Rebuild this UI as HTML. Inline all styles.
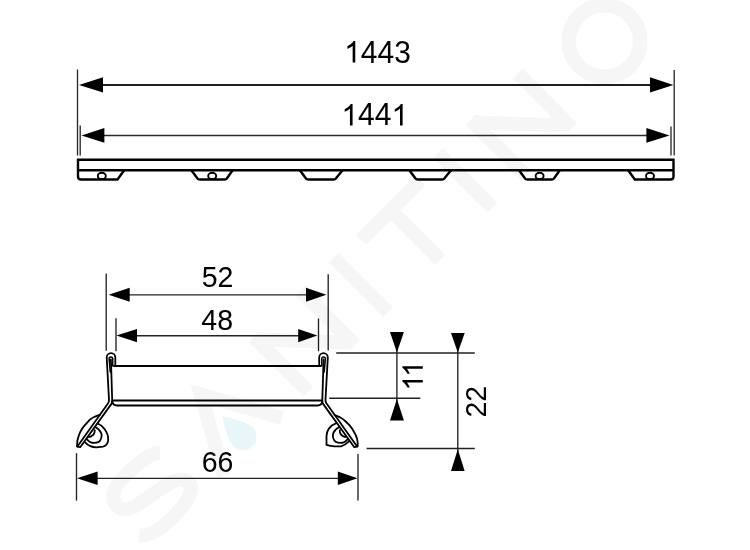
<!DOCTYPE html>
<html><head><meta charset="utf-8"><style>
html,body{margin:0;padding:0;background:#fff;}
svg{display:block;will-change:transform;}
text{font-family:"Liberation Sans",sans-serif;fill:#000;}
</style></head><body>
<svg width="750" height="550" viewBox="0 0 750 550">

<!-- watermark -->
<g transform="rotate(-45)" fill="none" stroke="#f6f6f6" stroke-width="14">
  <!-- S -->
  <path d="M-207 433 C-214 426 -232 425 -250 425 C-266 425 -275 431 -275 441 C-275 451 -264 454 -245 457 C-222 460 -208 464 -208 474 C-208 484 -222 488 -243 488 C-261 488 -274 485 -280 477"/>
  <!-- A -->
  <path d="M-178 495 L-137 421 L-96 495" stroke-linejoin="miter"/>
  <!-- N1 -->
  <path d="M-58.8 495 V418 M-58.8 421 L7.2 492 M7.2 418 V495"/>
  <!-- I -->
  <path d="M53.7 418 V495"/>
  <!-- T -->
  <path d="M85.8 425 H169.5 M127.6 418 V495"/>
  <!-- I -->
  <path d="M201.5 418 V495"/>
  <!-- N2 -->
  <path d="M248 495 V418 M248 421 L314 492 M314 418 V495"/>
  <!-- O -->
  <circle cx="398.4" cy="456.5" r="35.8" stroke-width="14.6"/>
  <!-- drop -->
  <path d="M-137 451.5 Q-125 469 -123.3 480.5 A13.7 13.7 0 0 1 -150.7 480.5 Q-149 469 -137 451.5 Z" fill="#e8f6fa" stroke="none"/>
</g>
<!-- ============ TOP: 1443 / 1441 ============ -->
<g stroke="#2a2a2a" stroke-width="1.35" fill="none">
  <line x1="77.5" y1="69.5" x2="77.5" y2="155.5"/>
  <line x1="80.2" y1="125.5" x2="80.2" y2="155.5"/>
  <line x1="674.2" y1="70" x2="674.2" y2="155.5"/>
  <line x1="671" y1="126.5" x2="671" y2="155.5"/>
  <line x1="100" y1="85" x2="655" y2="85" stroke="#1e1e1e" stroke-width="1.8"/>
  <line x1="100" y1="135.5" x2="650" y2="135.5"/>
</g>
<g fill="#000">
  <polygon points="79,84.9 103,77.3 103,92.5"/>
  <polygon points="673.4,84.9 650,77.3 650,92.5"/>
  <polygon points="81.5,135.4 104.4,128.1 104.4,142.7"/>
  <polygon points="669.5,135.4 646.4,128.1 646.4,142.7"/>
</g>
<!-- 1443 -->
<g transform="translate(344.1,62.5) scale(30)"><path d="M0.3726 0 L0.2847 0 L0.2847 -0.5601 Q0.2529 -0.5298 0.2012 -0.4995 Q0.1494 -0.4692 0.1089 -0.4541 L0.1089 -0.5391 Q0.1816 -0.5732 0.2358 -0.6216 Q0.29 -0.6699 0.3125 -0.7158 L0.3726 -0.7158 Z"/></g>
<g transform="translate(360.78,62.5) scale(1,1.04)"><text font-size="30">443</text></g>
<!-- 1441 -->
<g transform="translate(341.4,125.4) scale(30)"><path d="M0.3726 0 L0.2847 0 L0.2847 -0.5601 Q0.2529 -0.5298 0.2012 -0.4995 Q0.1494 -0.4692 0.1089 -0.4541 L0.1089 -0.5391 Q0.1816 -0.5732 0.2358 -0.6216 Q0.29 -0.6699 0.3125 -0.7158 L0.3726 -0.7158 Z"/></g>
<g transform="translate(358.08,125.4) scale(1,1.04)"><text font-size="30">44</text></g>
<g transform="translate(391.45,125.4) scale(30)"><path d="M0.3726 0 L0.2847 0 L0.2847 -0.5601 Q0.2529 -0.5298 0.2012 -0.4995 Q0.1494 -0.4692 0.1089 -0.4541 L0.1089 -0.5391 Q0.1816 -0.5732 0.2358 -0.6216 Q0.29 -0.6699 0.3125 -0.7158 L0.3726 -0.7158 Z"/></g>

<!-- bar profile -->
<g stroke="#000" stroke-width="2.4" fill="none" stroke-linejoin="round">
  <path d="M124.2 170.2 L117.5 179.5 H81 Q78 179.5 78 176.5 V159.7 H673.5 V176.5 Q673.5 179.5 670.5 179.5 H634.8 L628.2 170.2" stroke-linejoin="miter"/>
  <path d="M78 170.2 H673.5"/>
  <path d="M191.2 170 L197.3 178.3 Q198 179.5 200 179.5 H224.5 Q226.3 179.5 227 178.3 L232.8 170"/>
  <path d="M299.7 170 L305.8 178.3 Q306.5 179.5 308.5 179.5 H333.5 Q335.3 179.5 336 178.3 L342.8 170"/>
  <path d="M409.2 170 L415.3 178.3 Q416 179.5 418 179.5 H442 Q443.8 179.5 444.5 178.3 L451.2 170"/>
  <path d="M518.8 170 L524.9 178.3 Q525.6 179.5 527.6 179.5 H551.6 Q553.4 179.5 554.1 178.3 L560 170"/>
</g>
<g stroke="#000" stroke-width="1.9" fill="none">
  <ellipse cx="101.8" cy="175.9" rx="4" ry="3.2"/>
  <ellipse cx="212.2" cy="175.9" rx="4" ry="3.2"/>
  <ellipse cx="539.6" cy="175.9" rx="4" ry="3.2"/>
  <ellipse cx="650" cy="175.9" rx="4" ry="3.2"/>
</g>

<!-- ============ BOTTOM: cross-section ============ -->
<g stroke="#222" stroke-width="1.35" fill="none">
  <!-- 52 -->
  <line x1="106.2" y1="273.6" x2="106.2" y2="350.7"/>
  <line x1="328.2" y1="274.2" x2="328.2" y2="350.5"/>
  <line x1="125" y1="294.8" x2="310" y2="294.8"/>
  <!-- 48 -->
  <line x1="116" y1="318.3" x2="116" y2="351.3"/>
  <line x1="318.5" y1="318.5" x2="318.5" y2="351.3"/>
  <line x1="133" y1="335.7" x2="302" y2="335.7"/>
  <!-- 66 -->
  <line x1="76.5" y1="453.2" x2="76.5" y2="500.6"/>
  <line x1="358" y1="454" x2="358" y2="500.5"/>
  <line x1="95" y1="478.4" x2="340" y2="478.4"/>
  <!-- right horizontals -->
  <line x1="336.2" y1="353" x2="474.8" y2="353"/>
  <line x1="329.2" y1="398.2" x2="420.3" y2="398.2"/>
  <line x1="366.5" y1="448.5" x2="474.8" y2="448.5"/>
  <!-- verticals -->
  <line x1="396.9" y1="340" x2="396.9" y2="410"/>
  <line x1="457.8" y1="340" x2="457.8" y2="465"/>
</g>
<g fill="#000">
  <polygon points="108.6,294.7 129.7,287.7 129.7,301.7"/>
  <polygon points="326.4,294.7 306,287.7 306,301.7"/>
  <polygon points="116.4,335.6 137,328.9 137,342.3"/>
  <polygon points="317.3,335.6 298.2,328.9 298.2,342.3"/>
  <polygon points="77,478.3 97.6,471.4 97.6,485"/>
  <polygon points="357.5,478.3 337.8,471.4 337.8,485"/>
  <polygon points="396.9,352.4 390,332.1 403.9,332.1"/>
  <polygon points="396.9,398.9 390,420.5 403.9,420.5"/>
  <polygon points="457.8,352.4 451,333.1 464.7,333.1"/>
  <polygon points="457.8,449.3 451,471 464.6,471"/>
</g>
<g transform="translate(217.6,287.3) scale(1,1.04)"><text font-size="28.5" text-anchor="middle">52</text></g>
<g transform="translate(217.2,330.2) scale(1,1.04)"><text font-size="28.5" text-anchor="middle">48</text></g>
<g transform="translate(217.5,472.4) scale(1,1.04)"><text font-size="28.5" text-anchor="middle">66</text></g>
<g transform="translate(486,417.6) rotate(-90) scale(1,1.04)"><text font-size="28.5">22</text></g>
<!-- 11 rotated -->
<g transform="translate(422.8,390.7) rotate(-90) scale(28.5)"><path d="M0.3726 0 L0.2847 0 L0.2847 -0.5601 Q0.2529 -0.5298 0.2012 -0.4995 Q0.1494 -0.4692 0.1089 -0.4541 L0.1089 -0.5391 Q0.1816 -0.5732 0.2358 -0.6216 Q0.29 -0.6699 0.3125 -0.7158 L0.3726 -0.7158 Z"/><path transform="translate(0.482,0)" d="M0.3726 0 L0.2847 0 L0.2847 -0.5601 Q0.2529 -0.5298 0.2012 -0.4995 Q0.1494 -0.4692 0.1089 -0.4541 L0.1089 -0.5391 Q0.1816 -0.5732 0.2358 -0.6216 Q0.29 -0.6699 0.3125 -0.7158 L0.3726 -0.7158 Z"/></g>

<!-- profile -->
<g stroke="#000" stroke-width="2" fill="none" stroke-linejoin="round" stroke-linecap="round">
  <!-- grate top -->
  <path d="M114 366 H320.5"/>
  <!-- channel -->
  <path d="M113 400.5 H321.5"/>
  <path d="M112.2 401 Q112.6 405.5 117 405.5 H317.5 Q321.9 405.5 322.3 401"/>
</g>
<g id="clipL" stroke="#000" stroke-width="1.8" fill="none" stroke-linejoin="round" stroke-linecap="round">
  <!-- outer hairpin, left stroke of leg, upper diagonal -->
  <path d="M115.3 366 V357.5 A4.3 4.3 0 0 0 106.7 357.5 L109 399.5 Q109.2 401.5 108.1 403.2 L77.4 446.6"/>
  <!-- inner hairpin -->
  <path d="M112.7 366 V358.8 A1.8 1.8 0 0 0 109.1 358.8 L110.3 372" stroke-width="1.5"/>
  <!-- right stroke of leg, lower diagonal -->
  <path d="M110.9 359.5 L112.2 400 Q112.4 402 111.6 403.6 L80.2 447.2 L77.4 446.6"/>
  <!-- leaf -->
  <path d="M100.2 414.6 Q97.5 415.6 94.5 416.8 Q91.5 418.3 89.2 420.3 L84.2 425.8 Q81.8 428.6 80.3 431.8 Q78.3 436 77.4 440.5 L77 446"/>
  <!-- D outer -->
  <path d="M97.6 423.5 Q101.5 424.8 104.5 429 Q108.6 434.5 108.2 440 Q107.8 445.4 103 446.6 L96.4 447.3 Q89.8 447.2 85.4 442.6"/>
  <!-- D inner -->
  <path d="M95.6 427.3 Q99.6 429.2 101.4 433.5 Q102.4 438.8 98.8 441.9 Q94.5 443.7 90.9 442.4 Q88.6 441.5 87.2 439.5"/>
  <!-- crescent -->
  <path d="M94.7 430.2 Q95 434 91.6 436.1 Q90 436.9 88.6 436.9"/>
</g>
<g transform="translate(434.5,0) scale(-1,1)" stroke="#000" stroke-width="1.8" fill="none" stroke-linejoin="round" stroke-linecap="round">
  <!-- outer hairpin, left stroke of leg, upper diagonal -->
  <path d="M115.3 366 V357.5 A4.3 4.3 0 0 0 106.7 357.5 L109 399.5 Q109.2 401.5 108.1 403.2 L77.4 446.6"/>
  <!-- inner hairpin -->
  <path d="M112.7 366 V358.8 A1.8 1.8 0 0 0 109.1 358.8 L110.3 372" stroke-width="1.5"/>
  <!-- right stroke of leg, lower diagonal -->
  <path d="M110.9 359.5 L112.2 400 Q112.4 402 111.6 403.6 L80.2 447.2 L77.4 446.6"/>
  <!-- leaf -->
  <path d="M99.8 415.2 Q97.2 416.2 94.5 417.3 Q91.5 418.8 88.8 421.5 L85.1 425.2 Q82.5 428.2 80.7 431.5 Q78.5 435 77.5 438.5 Q76.6 441.8 76.8 446"/>
  <!-- D outer -->
  <path d="M98.6 423.3 Q102.5 424.6 105.6 428.6 Q107.8 432 108 436 L108 444.9 Q104 446.2 99.8 446.3 L93.4 446.3 Q89.5 445.3 85.2 441.2"/>
  <!-- D inner -->
  <path d="M95.6 427.3 Q99.6 429.2 101.4 433.5 Q102.4 438.8 98.8 441.9 Q94.5 443.7 90.9 442.4 Q88.6 441.5 87.2 439.5"/>
  <!-- crescent -->
  <path d="M94.7 430.2 Q95 434 91.6 436.1 Q90 436.9 88.6 436.9"/>
</g>
</svg>
</body></html>
